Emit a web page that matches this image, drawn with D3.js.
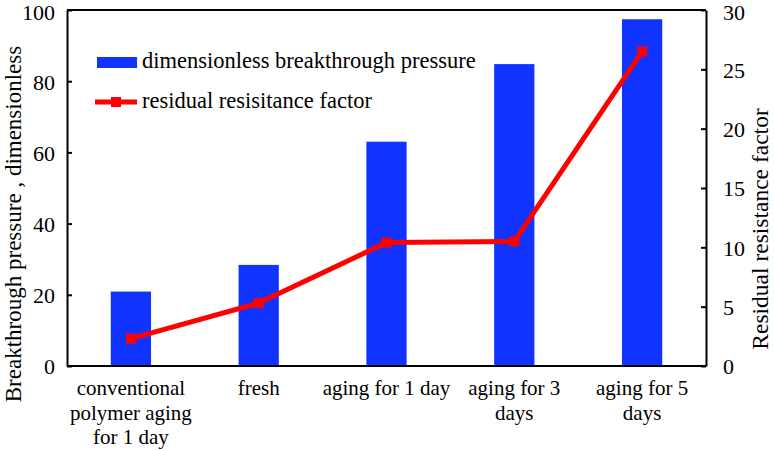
<!DOCTYPE html>
<html>
<head>
  <title>Breakthrough pressure</title>
</head>
<style>
  body { margin: 0; background: #fff; }
  text { font-family: "Liberation Serif", "Times New Roman", serif; fill: #000; }
</style>
<body>
  <script src="https://d3js.org/d3.v7.min.js"></script>
  <script>
    const categories = [
      ["conventional", "polymer aging", "for 1 day"],
      ["fresh"],
      ["aging for 1 day"],
      ["aging for 3", "days"],
      ["aging for 5", "days"]
    ];
    const pressure = [20.9, 28.4, 63.0, 84.8, 97.4];
    const rrf = [2.3, 5.3, 10.4, 10.5, 26.5];
    const leftTicks = [0, 20, 40, 60, 80, 100];
    const rightTicks = [0, 5, 10, 15, 20, 25, 30];

    const w = 774, h = 451;
    const m = {left: 67, right: 68, top: 10, bottom: 85};
    const iw = w - m.left - m.right, ih = h - m.top - m.bottom;

    const svg = d3.select("body").append("svg")
      .attr("width", w).attr("height", h);
    const g = svg.append("g").attr("transform", `translate(${m.left},${m.top})`);

    const idx = d3.range(categories.length);
    const x = d3.scaleBand().domain(idx).range([0, iw]).paddingInner(0.685).paddingOuter(0.3425);
    const xc = d3.scaleBand().domain(idx).range([0, iw]);
    const yL = d3.scaleLinear().domain([0, 100]).range([ih, 0]);
    const yR = d3.scaleLinear().domain([0, 30]).range([ih, 0]);
    const cx = i => xc(i) + xc.bandwidth() / 2;

    // bars
    g.selectAll("rect.bar").data(pressure).join("rect")
      .attr("class", "bar")
      .attr("x", (d, i) => x(i))
      .attr("width", x.bandwidth())
      .attr("y", d => yL(d))
      .attr("height", d => ih - yL(d))
      .attr("fill", "#1133ff");

    // line
    const line = d3.line().x((d, i) => cx(i)).y(d => yR(d));
    g.append("path").datum(rrf)
      .attr("d", line)
      .attr("fill", "none")
      .attr("stroke", "#ff0000")
      .attr("stroke-width", 5)
      .attr("stroke-linejoin", "round");
    g.selectAll("rect.mk").data(rrf).join("rect")
      .attr("class", "mk")
      .attr("x", (d, i) => cx(i) - 5)
      .attr("y", d => yR(d) - 5)
      .attr("width", 10).attr("height", 10)
      .attr("fill", "#ff0000");

    // axes
    const axL = g.append("g").call(d3.axisLeft(yL).tickValues(leftTicks).tickSizeInner(-5).tickSizeOuter(0).tickPadding(12));
    const axR = g.append("g").attr("transform", `translate(${iw},0)`)
      .call(d3.axisRight(yR).tickValues(rightTicks).tickSizeInner(-5).tickSizeOuter(0).tickPadding(17));
    [axL, axR].forEach(a => {
      a.attr("font-family", null);
      a.select(".domain").attr("stroke", "#000").attr("stroke-width", 2);
      a.selectAll(".tick line").attr("stroke", "#000").attr("stroke-width", 2);
      a.selectAll(".tick text").attr("font-size", 22).attr("fill", "#000").attr("dy", "0.36em");
    });
    // top labels sit a little lower so they stay inside the page
    axL.selectAll(".tick text").filter(d => d === 100).attr("dy", "0.45em");
    axR.selectAll(".tick text").filter(d => d === 30).attr("dy", "0.45em");

    // bottom and top frame
    g.append("line").attr("x1", 0).attr("x2", iw).attr("y1", ih).attr("y2", ih)
      .attr("stroke", "#000").attr("stroke-width", 2);
    g.append("line").attr("x1", 0).attr("x2", iw).attr("y1", 0).attr("y2", 0)
      .attr("stroke", "#000").attr("stroke-width", 2);

    // category labels
    const cat = g.append("g").selectAll("text").data(categories).join("text")
      .attr("text-anchor", "middle")
      .attr("font-size", 21)
      .attr("transform", (d, i) => `translate(${cx(i)},${ih + 29})`);
    cat.selectAll("tspan").data(d => d).join("tspan")
      .attr("x", 0)
      .attr("dy", (d, i) => i === 0 ? 0 : 24.5)
      .text(d => d);

    // axis titles
    svg.append("text")
      .attr("transform", `translate(21,224) rotate(-90)`)
      .attr("text-anchor", "middle").attr("font-size", 23)
      .text("Breakthrough pressure , dimensionless");
    svg.append("text")
      .attr("transform", `translate(768,229) rotate(-90)`)
      .attr("text-anchor", "middle").attr("font-size", 23.5)
      .text("Residual resistance factor");

    // legend
    const lg = svg.append("g");
    lg.append("rect").attr("x", 97).attr("y", 57).attr("width", 40).attr("height", 11).attr("fill", "#1133ff");
    lg.append("text").attr("x", 142).attr("y", 68).attr("font-size", 22.5).text("dimensionless breakthrough pressure");
    lg.append("line").attr("x1", 95).attr("x2", 137).attr("y1", 102).attr("y2", 102)
      .attr("stroke", "#ff0000").attr("stroke-width", 5);
    lg.append("rect").attr("x", 111).attr("y", 97).attr("width", 10).attr("height", 10).attr("fill", "#ff0000");
    lg.append("text").attr("x", 142).attr("y", 108).attr("font-size", 22.5).text("residual resisitance factor");
  </script>
</body>
</html>
